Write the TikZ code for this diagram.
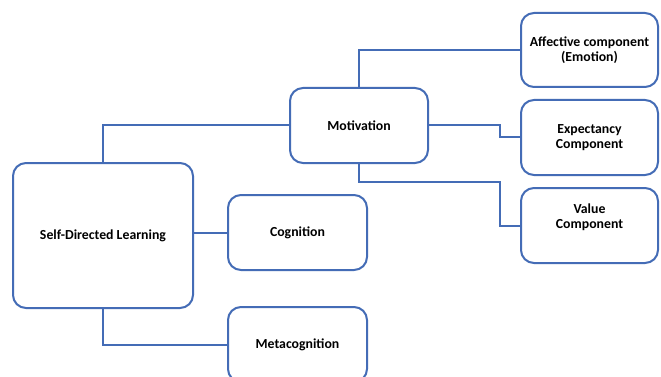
\documentclass[tikz,border=0pt]{standalone}
\usepackage{fontspec}
\setmainfont{Carlito}
\begin{document}
\begin{tikzpicture}[x=1pt,y=-1pt,
  lbl/.style={align=center, font=\bfseries\fontsize{13.8}{15}\selectfont, inner sep=0pt},
  box/.style={draw=lineblue, line width=2pt, rounded corners=13pt, fill=white, lbl},
  link/.style={draw=lineblue, line width=2pt}]
\definecolor{lineblue}{RGB}{68,108,182}
\clip (0,0) rectangle (661,377);
\fill[white] (0,0) rectangle (661,377);
\node[box, minimum width=180pt, minimum height=145pt] (sdl) at (103,235.5) {Self-Directed Learning};
\node[box, minimum width=138pt, minimum height=75pt] (mot) at (359,125.5) {Motivation};
\node[box, minimum width=139pt, minimum height=75pt] (cog) at (297.5,232.5) {Cognition};
\node[box, minimum width=139pt, minimum height=75pt] (meta) at (297.5,344.5) {Metacognition};
\node[box, minimum width=137pt, minimum height=74pt] (aff) at (589.5,50) {Affective component\\(Emotion)};
\node[box, minimum width=137pt, minimum height=75pt] (exp) at (589.5,137.5) {Expectancy\\Component};
\node[box, minimum width=137pt, minimum height=75pt] (val) at (589.5,225.5) {};
\node[lbl] (valtext) at ([yshift=8pt]val.center) {Value\\Component};
\coordinate (e1) at (mot.east -| 500,0);
\coordinate (v1) at (500,182);
\draw[link] (sdl.north) |- (mot.west);
\draw[link] (cog.west -| sdl.east) -- (cog.west);
\draw[link] (sdl.south) |- (meta.west);
\draw[link] (mot.north) |- (aff.west);
\draw[link] (mot.east) -- (e1) |- (exp.west);
\draw[link] (mot.south) |- (v1) |- (val.west);
\end{tikzpicture}
\end{document}
